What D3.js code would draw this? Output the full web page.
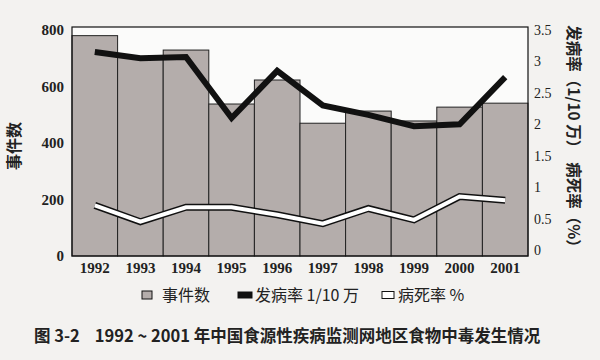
<!DOCTYPE html>
<html><head><meta charset="utf-8">
<script src="https://cdn.jsdelivr.net/npm/d3@7"></script>
<style>body{margin:0;background:#f3f2f0;} svg{display:block;}</style>
</head><body>
<svg id="c" width="600" height="360"></svg>
<script>
const years = ["1992","1993","1994","1995","1996","1997","1998","1999","2000","2001"];
const events = [780, 705, 729, 538, 623, 470, 513, 478, 527, 541];
const incidence = [3.15, 3.05, 3.07, 2.1, 2.85, 2.3, 2.15, 1.97, 2.0, 2.75];
const fatality = [0.71, 0.45, 0.68, 0.68, 0.56, 0.42, 0.66, 0.48, 0.85, 0.79];
const leftTicks = [0, 200, 400, 600, 800];
const rightTicks = [0, 0.5, 1, 1.5, 2, 2.5, 3, 3.5];

const svg = d3.select("#c");
const L = 72, R = 528, T = 27, B = 256;
const num = "'Liberation Serif', serif";
const cjk = "'Noto Sans CJK SC', sans-serif";

const x = d3.scaleBand().domain(years).range([L, R]).padding(0);
const yL = d3.scaleLinear().domain([0, 800]).range([B, 30]);
const yR = d3.scaleLinear().domain([0, 3.5]).range([B - 6, 30]);

svg.append("rect").attr("x", L).attr("y", T).attr("width", R - L).attr("height", B - T)
  .attr("fill", "#fbfbfa");

svg.append("g").selectAll("rect").data(events).join("rect")
  .attr("x", (d, i) => x(years[i]))
  .attr("y", d => yL(d))
  .attr("width", x.bandwidth())
  .attr("height", d => B - yL(d))
  .attr("fill", "#b4adab").attr("stroke", "#222").attr("stroke-width", 1);

svg.append("rect").attr("x", L).attr("y", T).attr("width", R - L).attr("height", B - T)
  .attr("fill", "none").attr("stroke", "#111").attr("stroke-width", 1.2);

const cx = i => x(years[i]) + x.bandwidth() / 2;
const lineInc = d3.line().x((d, i) => cx(i)).y(d => yR(d));
svg.append("path").datum(incidence).attr("d", lineInc)
  .attr("fill", "none").attr("stroke", "#111").attr("stroke-width", 6).attr("stroke-linejoin", "miter");

const lineFat = d3.line().x((d, i) => cx(i)).y(d => yR(d));
svg.append("path").datum(fatality).attr("d", lineFat)
  .attr("fill", "none").attr("stroke", "#111").attr("stroke-width", 7);
svg.append("path").datum(fatality).attr("d", lineFat)
  .attr("fill", "none").attr("stroke", "#fff").attr("stroke-width", 4);

const axL = svg.append("g").attr("transform", `translate(${L},0)`)
  .call(d3.axisLeft(yL).tickValues(leftTicks).tickSize(0).tickPadding(8));
axL.select(".domain").remove();
axL.selectAll("text").attr("font-family", num).attr("font-size", 15).attr("font-weight", "bold").attr("fill", "#222");

const axR = svg.append("g").attr("transform", `translate(${R},0)`)
  .call(d3.axisRight(yR).tickValues(rightTicks).tickFormat(d3.format("")).tickSize(0).tickPadding(6));
axR.select(".domain").remove();
axR.selectAll("text").attr("font-family", num).attr("font-size", 14).attr("fill", "#222");

const axB = svg.append("g").attr("transform", `translate(0,${B})`)
  .call(d3.axisBottom(x).tickSize(0).tickPadding(6));
axB.select(".domain").remove();
axB.selectAll("text").attr("font-family", num).attr("font-size", 15).attr("font-weight", "bold").attr("fill", "#222");

svg.append("text").attr("transform", "translate(20,146) rotate(-90)")
  .attr("text-anchor", "middle").attr("font-family", cjk).attr("font-size", 16).attr("font-weight", "bold")
  .attr("fill", "#222").text("事件数");

svg.append("text").attr("transform", "translate(568,140) rotate(90)")
  .attr("text-anchor", "middle").attr("font-family", cjk).attr("font-size", 15.5).attr("font-weight", "bold")
  .attr("fill", "#222").style("white-space", "pre").text("发病率（1/10 万）  病死率（%）");

const legend = [
  {label: "事件数", fill: "#b4adab", x: 142, w: 10, h: 8, tx: 20},
  {label: "发病率 1/10 万", fill: "#111", x: 238, w: 14, h: 6, tx: 17},
  {label: "病死率 %", fill: "#fff", x: 382, w: 12, h: 7, tx: 16}
];
const lg = svg.append("g").selectAll("g").data(legend).join("g")
  .attr("transform", d => `translate(${d.x},295)`);
lg.append("rect").attr("x", 0).attr("y", d => -d.h / 2).attr("width", d => d.w).attr("height", d => d.h)
  .attr("fill", d => d.fill).attr("stroke", "#111").attr("stroke-width", 1);
lg.append("text").attr("x", d => d.tx).attr("y", 6).attr("font-family", cjk).attr("font-size", 16)
  .attr("fill", "#222").text(d => d.label);

svg.append("text").attr("x", 34).attr("y", 342).attr("font-family", cjk).attr("font-size", 16.5)
  .attr("font-weight", "bold").attr("fill", "#222").style("white-space", "pre")
  .text("图 3-2    1992 ~ 2001 年中国食源性疾病监测网地区食物中毒发生情况");
</script>
</body></html>
